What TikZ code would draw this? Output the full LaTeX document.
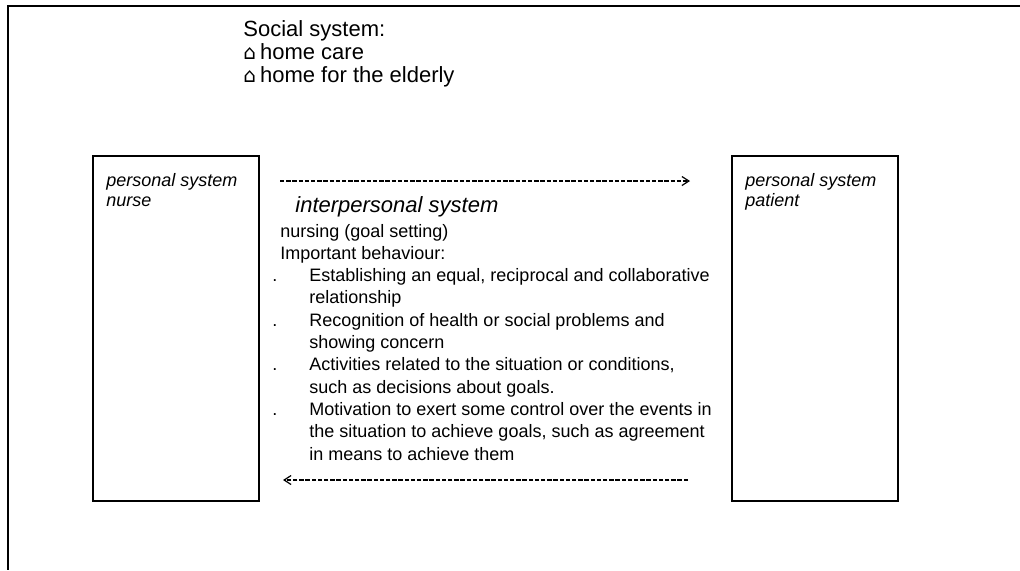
\documentclass[tikz,border=0pt]{standalone}
\usepackage{fontspec}
\setmainfont{Liberation Sans}
\newfontfamily\housefont{DejaVu Sans}
\usetikzlibrary{positioning,arrows.meta}
\newcommand{\hsym}{{\housefont\fontsize{10}{10}\selectfont ⌂}\hspace{2pt}}

\begin{document}
\begin{tikzpicture}[x=0.5pt,y=-0.5pt,>={Straight Barb[length=3.5pt,width=4.5pt]},
    persbox/.style={draw,line width=0.75pt,minimum width=83pt,minimum height=172.5pt,anchor=north west,inner sep=0pt},
    perslbl/.style={font=\itshape\fontsize{9}{10.4}\selectfont,inner sep=0pt,anchor=base west},
    bodytxt/.style={font=\fontsize{9}{11.15}\selectfont,inner sep=0pt,anchor=base west},
    flow/.style={->,line width=0.6pt,dash pattern=on 2.2pt off 0.9pt}]
    \useasboundingbox (0,0) rectangle (1020,570);
    % frame
    \draw [line width=1pt] (1020,6) -- (8,6) -- (8,570);
    % social system
    \node [bodytxt,font=\fontsize{11}{11.5}\selectfont] (social) at (243,36) {\begin{tabular}[t]{@{}l@{}}Social system:\\ \hsym home care\\ \hsym home for the elderly\end{tabular}};
    % personal systems
    \node [persbox] (nurse) at (92,155) {};
    \node [persbox] (patient) at (731,155) {};
    \node [perslbl] (nurselbl) at (106,186) {\begin{tabular}[t]{@{}l@{}}personal system\\nurse\end{tabular}};
    \node [perslbl] (patientlbl) at (745,186) {\begin{tabular}[t]{@{}l@{}}personal system\\patient\end{tabular}};
    % interpersonal system
    \node [bodytxt,font=\itshape\fontsize{11}{13}\selectfont] (inter) at (295,212) {interpersonal system};
    \node [bodytxt] (behav) at (272,237) {\begin{tabular}[t]{@{}p{18.5pt}@{}l@{}}
    \multicolumn{2}{@{}l@{}}{\hspace{4pt}nursing (goal setting)}\\
    \multicolumn{2}{@{}l@{}}{\hspace{4pt}Important behaviour:}\\
    . & Establishing an equal, reciprocal and collaborative\\
      & relationship\\
    . & Recognition of health or social problems and\\
      & showing concern\\
    . & Activities related to the situation or conditions,\\
      & such as decisions about goals.\\
    . & Motivation to exert some control over the events in\\
      & the situation to achieve goals, such as agreement\\
      & in means to achieve them
    \end{tabular}};
    % arrows
    \coordinate (fwdtail) at (280,181);
    \coordinate (fwdhead) at (690,181);
    \coordinate (backtail) at (688,480);
    \coordinate (backhead) at (283,480);
    \draw [flow] (fwdtail) -- (fwdhead);
    \draw [flow] (backtail) -- (backhead);
\end{tikzpicture}
\end{document}
